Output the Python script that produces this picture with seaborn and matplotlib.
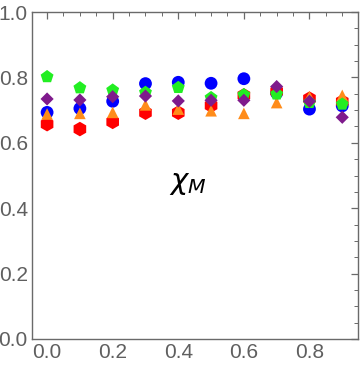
import numpy as np
import pandas as pd
import seaborn as sns
import matplotlib
matplotlib.use("Agg")
import matplotlib.pyplot as plt
from matplotlib.ticker import MultipleLocator

x_vals = [0.0, 0.1, 0.2, 0.3, 0.4, 0.5, 0.6, 0.7, 0.8, 0.9]
blue_vals = [0.693, 0.705, 0.727, 0.781, 0.785, 0.782, 0.796, 0.752, 0.703, 0.713]
red_vals = [0.657, 0.642, 0.664, 0.692, 0.692, 0.714, 0.745, 0.757, 0.735, 0.726]
orange_vals = [0.688, 0.690, 0.693, 0.716, 0.703, 0.698, 0.690, 0.723, 0.741, 0.745]
green_vals = [0.802, 0.768, 0.761, 0.754, 0.769, 0.738, 0.747, 0.749, 0.723, 0.718]
purple_vals = [0.734, 0.731, 0.741, 0.743, 0.728, 0.730, 0.730, 0.772, 0.727, 0.678]

series_names = ["blue", "red", "orange", "green", "purple"]
series_vals = [blue_vals, red_vals, orange_vals, green_vals, purple_vals]
colors = {"blue": "#0000ff", "red": "#ff0000", "orange": "#ff8c1a",
          "green": "#22ee22", "purple": "#7f1a8c"}
markers = {"blue": "o", "red": "h", "orange": "^", "green": "p", "purple": "D"}
sizes = {"blue": 85, "red": 110, "orange": 70, "green": 95, "purple": 45}

df = pd.concat([pd.DataFrame({"x": x_vals, "y": v, "series": n})
                for n, v in zip(series_names, series_vals)], ignore_index=True)

sns.set_style("white")
plt.rcParams["font.family"] = ["Liberation Sans", "DejaVu Sans"]

fig = plt.figure(figsize=(3.6, 3.66), dpi=100)
ax = fig.add_axes([32/360, 27/366, 326/360, 327/366])

for n in series_names:
    sub = df[df["series"] == n]
    sns.scatterplot(data=sub, x="x", y="y", ax=ax, color=colors[n],
                    marker=markers[n], s=sizes[n], edgecolor="none",
                    linewidth=0, legend=False)

ax.set_xlim(-0.046, 0.948)
ax.set_ylim(0, 1.0)
ax.set_xlabel("")
ax.set_ylabel("")
ax.xaxis.set_minor_locator(MultipleLocator(0.05))
ax.yaxis.set_minor_locator(MultipleLocator(0.05))
ax.set_xticks([0.0, 0.2, 0.4, 0.6, 0.8])
ax.set_xticklabels(["0.0", "0.2", "0.4", "0.6", "0.8"])
ax.set_yticks([0.0, 0.2, 0.4, 0.6, 0.8, 1.0])
ax.set_yticklabels(["0.0", "0.2", "0.4", "0.6", "0.8", "1.0"])

grey = "#6a6a6a"
for sp in ax.spines.values():
    sp.set_color(grey)
    sp.set_linewidth(1.0)
    sp.set_visible(True)
ax.tick_params(which="both", direction="in", colors=grey, labelcolor="#5f5f5f",
               top=True, right=True, labelsize=15)
ax.tick_params(which="major", length=5, width=0.9, pad=3)
ax.tick_params(which="minor", length=2.8, width=0.7)

ax.text(0.43, 0.477, r"$\chi_M$", fontsize=21, ha="center", va="center",
        color="black")

fig.savefig("out.png", dpi=100)
